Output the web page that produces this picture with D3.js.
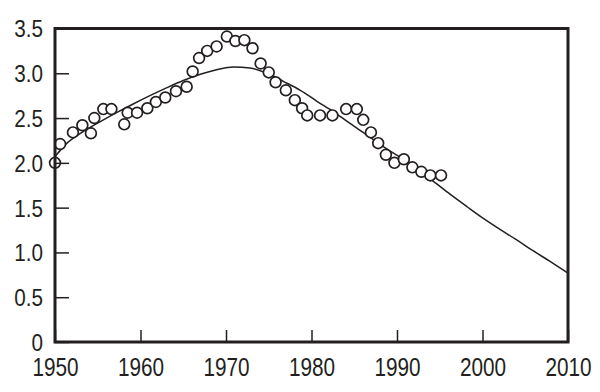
<!DOCTYPE html>
<html>
<head>
<meta charset="utf-8">
<script src="https://cdn.jsdelivr.net/npm/d3@7"></script>
<style>
  html, body { margin: 0; padding: 0; background: #fff; }
  svg { display: block; }
  text { font-family: "Liberation Sans", Arial, Helvetica, sans-serif; fill: #231f20; }
</style>
</head>
<body>
<script>
// Observed data (circles)
const obsYears = [1950.0, 1950.6, 1952.1, 1953.2, 1954.2, 1954.6, 1955.65, 1956.6, 1958.1, 1958.5,
  1959.6, 1960.8, 1961.8, 1962.9, 1964.15, 1965.4, 1966.1, 1966.85, 1967.8, 1968.9,
  1970.1, 1971.1, 1972.15, 1973.1, 1974.05, 1975.0, 1975.8, 1977.0, 1978.05, 1978.9,
  1979.5, 1981.0, 1982.45, 1984.05, 1985.3, 1986.05, 1986.95, 1987.8, 1988.7, 1989.7,
  1990.8, 1991.8, 1992.85, 1993.9, 1995.15];
const obsValues = [2.00, 2.21, 2.34, 2.42, 2.33, 2.50, 2.60, 2.60, 2.43, 2.56,
  2.56, 2.61, 2.68, 2.73, 2.80, 2.85, 3.02, 3.17, 3.25, 3.30,
  3.41, 3.36, 3.37, 3.28, 3.11, 3.01, 2.90, 2.81, 2.70, 2.61,
  2.53, 2.53, 2.53, 2.60, 2.60, 2.48, 2.34, 2.22, 2.09, 2.00,
  2.04, 1.95, 1.90, 1.86, 1.86];

// Fitted curve
const fitYears = [1950.0, 1951.4, 1953.3, 1955.3, 1957.2, 1959.2, 1961.1, 1963.1, 1965.0, 1967.0,
  1968.9, 1970.9, 1972.8, 1974.8, 1976.7, 1978.7, 1980.6, 1982.6, 1984.5, 1986.5,
  1988.4, 1990.4, 1992.3, 1994.3, 1996.2, 1998.2, 2000.1, 2002.0, 2004.0, 2005.9,
  2007.9, 2010.0];
const fitValues = [2.07, 2.22, 2.35, 2.46, 2.56, 2.66, 2.75, 2.84, 2.92, 2.99,
  3.04, 3.07, 3.06, 3.00, 2.91, 2.81, 2.69, 2.57, 2.44, 2.31,
  2.18, 2.06, 1.93, 1.79, 1.65, 1.51, 1.38, 1.26, 1.14, 1.02,
  0.90, 0.77];

const yTicks = [0, 0.5, 1.0, 1.5, 2.0, 2.5, 3.0, 3.5];
const yTickLabels = ["0", "0.5", "1.0", "1.5", "2.0", "2.5", "3.0", "3.5"];
const xTicks = [1950, 1960, 1970, 1980, 1990, 2000, 2010];
const xTickLabels = ["1950", "1960", "1970", "1980", "1990", "2000", "2010"];

const W = 600, H = 392;
const plotL = 55, plotR = 568, plotT = 28.5, plotB = 342;
const ink = "#231f20";

const svg = d3.select("body").append("svg").attr("width", W).attr("height", H);

const x = d3.scaleLinear().domain([1950, 2010]).range([plotL, plotR]);
const y = d3.scaleLinear().domain([0, 3.5]).range([plotB, plotT]);

// Fitted curve
const line = d3.line()
  .x((d, i) => x(fitYears[i]))
  .y((d, i) => y(fitValues[i]))
  .curve(d3.curveMonotoneX);
svg.append("path")
  .attr("d", line(fitYears))
  .attr("fill", "none")
  .attr("stroke", ink)
  .attr("stroke-width", 1.5);

// Observed circles
svg.append("g").selectAll("circle")
  .data(obsYears)
  .join("circle")
  .attr("cx", (d) => x(d))
  .attr("cy", (d, i) => y(obsValues[i]))
  .attr("r", 5.4)
  .attr("fill", "#fff")
  .attr("stroke", ink)
  .attr("stroke-width", 1.7);

// Frame
svg.append("rect")
  .attr("x", plotL).attr("y", plotT)
  .attr("width", plotR - plotL).attr("height", plotB - plotT)
  .attr("fill", "none")
  .attr("stroke", ink)
  .attr("stroke-width", 3);

// Y axis (ticks inside)
const yAxis = d3.axisRight(y)
  .tickValues(yTicks)
  .tickFormat((d, i) => yTickLabels[i])
  .tickSize(14)
  .tickPadding(0);
const gy = svg.append("g").attr("transform", `translate(${plotL},0)`).call(yAxis);
gy.select(".domain").remove();
gy.selectAll(".tick line").attr("stroke", ink).attr("stroke-width", 1.5);
gy.selectAll(".tick text")
  .attr("x", 0)
  .attr("dy", "0.36em")
  .attr("transform", "translate(-12,0) scale(0.88,1)")
  .attr("text-anchor", "end")
  .style("font-size", "23.5px")
  .attr("fill", ink);

// X axis (ticks inside)
const xAxis = d3.axisTop(x)
  .tickValues(xTicks)
  .tickFormat((d, i) => xTickLabels[i])
  .tickSize(12)
  .tickPadding(0);
const gx = svg.append("g").attr("transform", `translate(0,${plotB})`).call(xAxis);
gx.select(".domain").remove();
gx.selectAll(".tick line").attr("stroke", ink).attr("stroke-width", 1.5);
gx.selectAll(".tick text")
  .attr("y", 0)
  .attr("dy", 0)
  .attr("transform", "translate(0,33.5) scale(0.83,1)")
  .attr("text-anchor", "middle")
  .style("font-size", "25px")
  .attr("fill", ink);
</script>
</body>
</html>
